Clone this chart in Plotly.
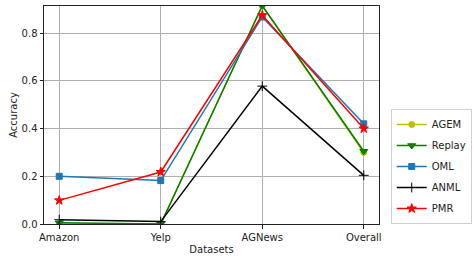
import plotly.graph_objects as go

datasets = ["Amazon", "Yelp", "AGNews", "Overall"]
agem = [0.0, 0.0, 0.915, 0.30]
replay = [0.005, 0.0, 0.915, 0.305]
oml = [0.20, 0.182, 0.868, 0.42]
anml = [0.018, 0.01, 0.578, 0.204]
pmr = [0.099, 0.218, 0.875, 0.40]

series = [
    ("AGEM", agem, "#bfbf00", "circle", 6),
    ("Replay", replay, "#008000", "triangle-down", 7),
    ("OML", oml, "#1f77b4", "square", 6),
    ("ANML", anml, "#000000", "cross-thin", 7),
    ("PMR", pmr, "#ff0000", "star", 7),
]

fig = go.Figure()
for name, vals, color, sym, size in series:
    fig.add_trace(go.Scatter(
        x=datasets, y=vals, name=name, mode="lines+markers",
        legendgroup=name,
        line=dict(color=color, width=1.5),
        marker=dict(symbol=sym, size=size, color=color,
                    line=dict(color=color, width=1)),
        cliponaxis=True,
    ))

axis_common = dict(
    showline=True, linecolor="#222222", linewidth=1, mirror=True,
    showgrid=True, gridcolor="#b0b0b0", gridwidth=0.8,
    ticks="outside", ticklen=3.5, tickcolor="#222222", tickwidth=0.8,
    zeroline=False, tickfont=dict(size=10, color="#222222"),
    automargin=False,
)

fig.update_layout(
    width=474, height=262,
    margin=dict(l=44, r=95, t=6, b=38, autoexpand=False),
    paper_bgcolor="white", plot_bgcolor="white",
    font=dict(family="DejaVu Sans", size=10, color="#222222"),
    xaxis=dict(type="category", range=[-0.15, 3.15],
               title=dict(text="Datasets", font=dict(size=10), standoff=4),
               **axis_common),
    yaxis=dict(range=[0, 0.914], tickvals=[0, 0.2, 0.4, 0.6, 0.8],
               tickformat=".1f",
               title=dict(text="Accuracy", font=dict(size=10), standoff=2),
               **axis_common),
    legend=dict(x=1.035, y=0.0, xanchor="left", yanchor="bottom",
                bordercolor="#d0d0d0", borderwidth=1,
                font=dict(size=10), tracegroupgap=2,
                itemwidth=30),
    showlegend=True,
)

fig.write_html("out.html",
               config={"displayModeBar": False},
               post_script="document.body.style.margin='0';document.body.style.overflow='hidden';")
